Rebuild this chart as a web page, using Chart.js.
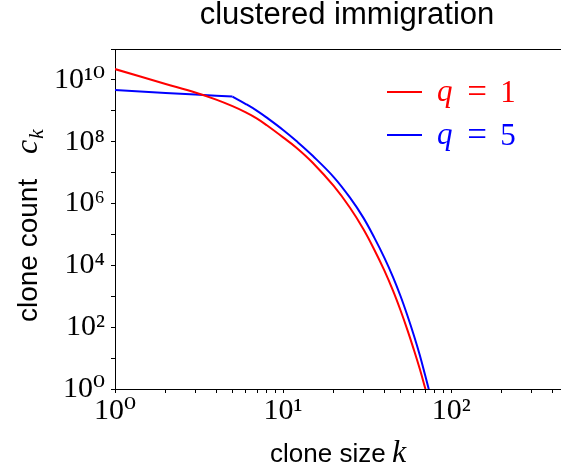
<!DOCTYPE html>
<html>
<head>
<meta charset="utf-8">
<script src="https://cdn.jsdelivr.net/npm/chart.js@4.4.1/dist/chart.umd.min.js"></script>
<style>
  html, body { margin: 0; padding: 0; background: #fff; }
  canvas { display: block; }
</style>
</head>
<body>
<canvas id="chart" width="561" height="468"></canvas>
<script>
// clone size k
const kValues = [1, 2, 3, 4, 5, 6, 7, 8, 10, 12, 15, 20, 25, 30, 35, 40, 45, 50, 55, 60, 65, 70, 75];
// clone count c_k for q = 1 (red) and q = 5 (blue)
const countQ1 = [2.24e10, 7.4e9, 3.9e9, 2.3e9, 1.41e9, 8.9e8, 5.6e8, 3.4e8, 1.38e8, 6.4e7, 2.09e7,
                 3.7e6, 7.3e5, 1.5e5, 3.1e4, 6.9e3, 1.55e3, 347, 79, 18.5, 4.5, 1.07, 0.27];
const countQ5 = [4.68e9, 3.8e9, 3.39e9, 3.09e9, 2.88e9, 1.66e9, 1.0e9, 6.0e8, 2.4e8, 1.05e8, 3.5e7,
                 7.2e6, 1.55e6, 3.5e5, 7.6e4, 1.78e4, 4.26e3, 1.0e3, 230, 54, 12.6, 2.77, 0.65];
const seriesQ = ["1", "5"];
const seriesColors = ["#ff0000", "#0000ff"];
// the q = 5 curve has a corner at k = q
const kinkQ5 = 5;

// tick positions, and which decades carry a label
const xTicks = [1, 2, 3, 4, 5, 6, 7, 8, 9, 10, 20, 30, 40, 50, 60, 70, 80, 90, 100, 200, 300, 400];
const xLabelExps = [0, 1, 2];
const yTicks = [1, 1e1, 1e2, 1e3, 1e4, 1e5, 1e6, 1e7, 1e8, 1e9, 1e10, 1e11];
const yLabelExps = [0, 2, 4, 6, 8, 10];

const SUP = "⁰¹²³⁴⁵⁶⁷⁸⁹";
function powLabel(value, exps) {
    const l = Math.log10(value);
    const e = Math.round(l);
    if (Math.abs(l - e) > 1e-9 || !exps.includes(e)) return "";
    return "10" + String(e).split("").map(d => SUP[+d]).join("");
}

function points(values, from, to) {
    return kValues.map((k, j) => ({ x: k, y: values[j] })).filter(p => p.x >= from && p.x <= to);
}

const serif = "'Liberation Serif', 'DejaVu Serif', serif";
const sans = "'Liberation Sans', 'DejaVu Sans', sans-serif";

// spine on top, axis labels with math parts, legend inside the axes
const decorPlugin = {
    id: "decor",
    afterLayout(chart) {
        // the axes run on past the right edge of the picture, title is centred on them
        chart.titleBlock.right += 18;
    },
    afterDraw(chart) {
        const ctx = chart.ctx;
        const area = chart.chartArea;
        ctx.save();

        ctx.strokeStyle = "#000";
        ctx.lineWidth = 1;
        ctx.beginPath();
        ctx.moveTo(area.left, area.top + 0.5);
        ctx.lineTo(area.right, area.top + 0.5);
        ctx.stroke();

        ctx.fillStyle = "#000";
        ctx.textBaseline = "alphabetic";
        ctx.textAlign = "left";

        // x label: clone size k
        ctx.font = "26px " + sans;
        ctx.fillText("clone size", 270, 462);
        ctx.font = "italic 32px " + serif;
        ctx.fillText("k", 392, 462);

        // y label: clone count c_k
        ctx.translate(37, area.bottom - 67);
        ctx.rotate(-Math.PI / 2);
        ctx.font = "28px " + sans;
        ctx.fillText("clone count", 0, 0);
        ctx.font = "italic 32px " + serif;
        ctx.fillText("c", 168, 0);
        ctx.font = "italic 22px " + serif;
        ctx.fillText("k", 183, 6);
        ctx.setTransform(1, 0, 0, 1, 0, 0);

        // legend
        seriesQ.forEach((q, i) => {
            const ly = 92 + i * 43;
            ctx.strokeStyle = seriesColors[i];
            ctx.lineWidth = 2;
            ctx.beginPath();
            ctx.moveTo(387, ly);
            ctx.lineTo(422, ly);
            ctx.stroke();
            ctx.fillStyle = seriesColors[i];
            ctx.font = "italic 31px " + serif;
            ctx.fillText("q", 437, ly + 9);
            ctx.font = "35px " + serif;
            ctx.textAlign = "center";
            ctx.fillText("=", 477, ly + 11);
            ctx.font = "31px " + serif;
            ctx.fillText(q, 508, ly + 10);
            ctx.textAlign = "left";
        });
        ctx.restore();
    }
};

const lineStyle = { borderWidth: 2, pointRadius: 0, fill: false };

const ctx = document.getElementById("chart").getContext("2d");
new Chart(ctx, {
    type: "line",
    data: {
        datasets: [
            { ...lineStyle, label: "q = 1", data: points(countQ1, 1, 1000),
              borderColor: seriesColors[0], tension: 0.4 },
            { ...lineStyle, label: "q = 5", data: points(countQ5, 1, kinkQ5),
              borderColor: seriesColors[1], tension: 0 },
            { ...lineStyle, label: "q = 5", data: points(countQ5, kinkQ5, 1000),
              borderColor: seriesColors[1], tension: 0.4 }
        ]
    },
    options: {
        responsive: false,
        animation: false,
        devicePixelRatio: 1,
        layout: { padding: 0 },
        plugins: {
            legend: { display: false },
            tooltip: { enabled: false },
            title: {
                display: true,
                text: "clustered immigration",
                fullSize: false,
                color: "#000",
                font: { family: sans, size: 31, weight: "normal", lineHeight: 1 },
                padding: { top: 0, bottom: 18 }
            }
        },
        scales: {
            x: {
                type: "logarithmic",
                min: 1,
                max: 450,
                afterBuildTicks: s => { s.ticks = xTicks.map(v => ({ value: v })); },
                afterFit: s => { s.height = 79; },
                border: { display: true, color: "#000", width: 1 },
                grid: { drawOnChartArea: false, drawTicks: true, tickLength: 4, tickColor: "#000" },
                ticks: {
                    autoSkip: false, maxRotation: 0, minRotation: 0, padding: 0,
                    color: "#000",
                    font: { family: serif, size: 30 },
                    callback: v => powLabel(v, xLabelExps)
                }
            },
            y: {
                type: "logarithmic",
                min: 1,
                max: 1e11,
                afterBuildTicks: s => { s.ticks = yTicks.map(v => ({ value: v })); },
                afterFit: s => { s.width = 115; },
                border: { display: true, color: "#000", width: 1 },
                grid: { drawOnChartArea: false, drawTicks: true, tickLength: 4, tickColor: "#000" },
                ticks: {
                    autoSkip: false, padding: 6,
                    color: "#000",
                    font: { family: serif, size: 30 },
                    callback: v => powLabel(v, yLabelExps)
                }
            }
        }
    },
    plugins: [decorPlugin]
});
</script>
</body>
</html>
